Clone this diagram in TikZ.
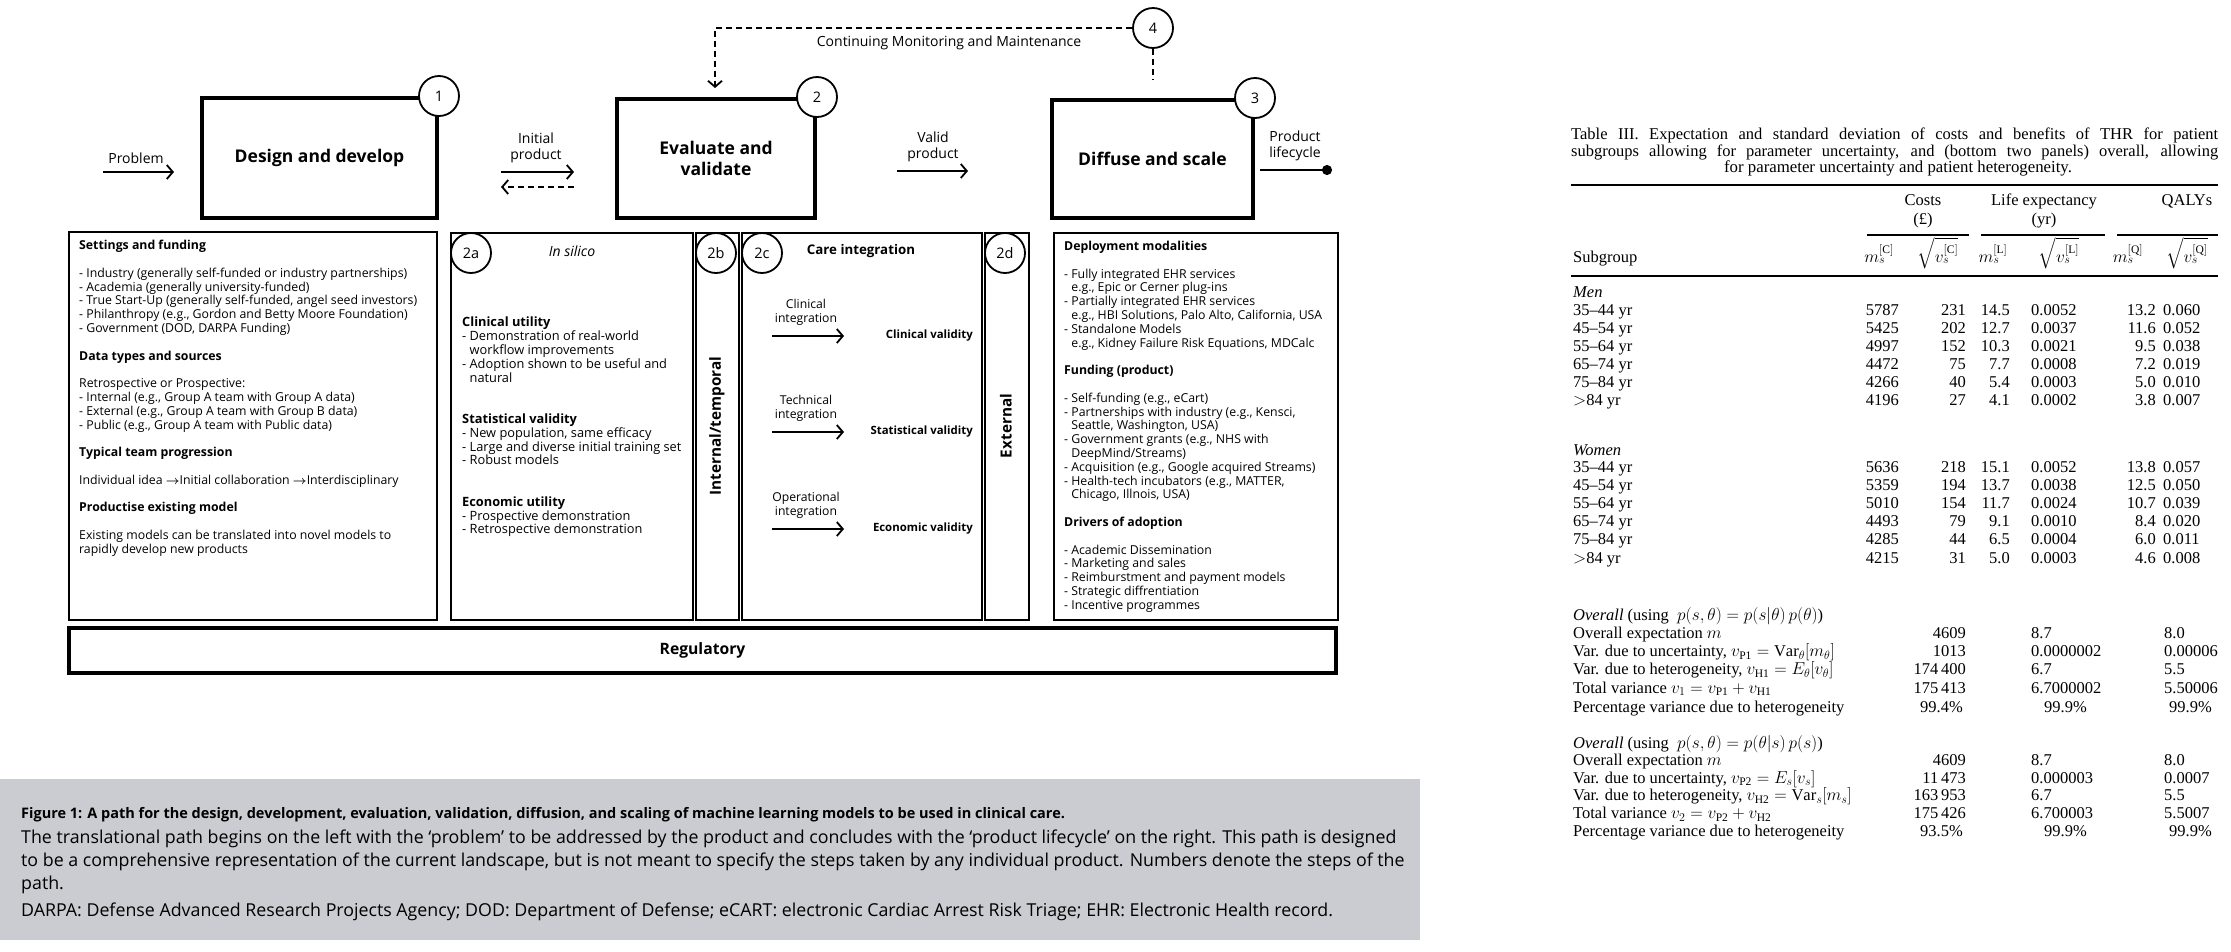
\documentclass[tikz,border=0pt]{standalone}
\usepackage{fontspec}
\setmainfont{Liberation Serif}
\newfontfamily\osans{Open Sans}
\usepackage{amsmath}
\usetikzlibrary{arrows.meta}
\definecolor{capgray}{RGB}{203,204,209}

\tikzset{
  stagebox/.style={draw,line width=4pt,inner sep=0pt,align=center,font=\osans\bfseries\fontsize{17.5}{21}\selectfont},
  stepnum/.style={circle,draw,fill=white,line width=1.8pt,minimum size=40pt,inner sep=0pt,font=\osans\fontsize{14.5}{14}\selectfont},
  panelbox/.style={draw,line width=2.5pt,anchor=north west,inner sep=0pt,outer sep=0pt},
  flowlabel/.style={inner sep=0.75pt,align=center,font=\osans\fontsize{14}{16}\selectfont},
  bodytext/.style={inner sep=0pt,align=left,anchor=north west,font=\osans\fontsize{12.3}{13.8}\selectfont},
  flowarrow/.style={line width=1.8pt,-{Straight Barb[length=6pt,width=14pt]}},
  dashline/.style={line width=1.8pt,dash pattern={on 6pt off 4pt}},
  tabtext/.style={inner sep=0pt,font=\fontsize{16.5}{18}\selectfont},
  captext/.style={anchor=west,inner sep=0pt,font=\osans\fontsize{17.8}{17}\selectfont},
}

\begin{document}
\begin{tikzpicture}[x=1pt,y=1pt,yscale=-1,xscale=1]
\path[use as bounding box] (0,0) rectangle (2231,951);

%Shape: stages [id:stages]
\draw (319.5,158) node (s1) [stagebox,minimum width=235pt,minimum height=120pt] {Design and develop};
\draw (716,158.5) node (s2) [stagebox,minimum width=198pt,minimum height=119pt] {Evaluate and\\validate};
\draw (1152.5,159) node (s3) [stagebox,minimum width=201pt,minimum height=118pt] {Diffuse and scale};
\draw (s1.north east) node (n1) [stepnum] {1};
\draw (s2.north east) node (n2) [stepnum] {2};
\draw (s3.north east) node (n3) [stepnum] {3};
\draw (1153,28) node (n4) [stepnum] {4};

%Straight Lines [id:flow]
\coordinate (pa) at (103,172); \coordinate (pb) at (174,172);
\coordinate (ia) at (501,172); \coordinate (ib) at (574,172);
\coordinate (ra) at (574,187); \coordinate (rb) at (501,187);
\coordinate (va) at (897,171); \coordinate (vb) at (968,171);
\coordinate (la) at (1260,170); \coordinate (lb) at (1332,170);
\coordinate (fb) at (715,88); \coordinate (mb) at (1153,80);
\draw [flowarrow] (pa) -- (pb) ;
\draw [flowarrow] (ia) -- (ib) ;
\draw [dashline,-{Straight Barb[length=6pt,width=14pt]}] (ra) -- (rb) ;
\draw [flowarrow] (va) -- (vb) ;
\draw [line width=1.8pt,-{Circle[length=10pt]}] (la) -- (lb) ;
\draw [dashline,-{Straight Barb[length=6pt,width=14pt]}] (n4.west) -| (fb) ;
\draw [dashline] (n4.south) -- (mb) ;

% Text Node
\draw (136,158) node (lprob) [flowlabel] {Problem};
% Text Node
\draw (536,148) node (linit) [flowlabel] {Initial\\product};
% Text Node
\draw (933,147) node (lvalid) [flowlabel] {Valid\\product};
% Text Node
\draw (1295,146) node (llife) [flowlabel] {Product\\lifecycle};
% Text Node
\draw (949,43) node (lmon) [flowlabel] {Continuing Monitoring and Maintenance};

%Shape: panels [id:panels]
\draw (69,232) node (d1) [panelbox,minimum width=368pt,minimum height=388pt] {};
\draw (451,233) node (d2a) [panelbox,minimum width=242pt,minimum height=387pt] {};
\draw (696,233) node (d2b) [panelbox,minimum width=43pt,minimum height=387pt] {};
\draw (742,233) node (d2c) [panelbox,minimum width=240pt,minimum height=387pt] {};
\draw (985,233) node (d2d) [panelbox,minimum width=44pt,minimum height=387pt] {};
\draw (1054,233) node (d3) [panelbox,minimum width=284pt,minimum height=387pt] {};
\draw (69,628) node (reg) [panelbox,line width=4pt,minimum width=1267pt,minimum height=45pt] {};
\draw (reg.center) node (lreg) [font=\osans\bfseries\fontsize{15.7}{16}\selectfont] {Regulatory};
\draw (471,253) node (n2a) [stepnum] {2a};
\draw (716,253) node (n2b) [stepnum] {2b};
\draw (762,253) node (n2c) [stepnum] {2c};
\draw (1005,253) node (n2d) [stepnum] {2d};

% Text Node
\draw (79,240) node (t1) [bodytext] {\textbf{Settings and funding}\\[13.8pt]
- Industry (generally self-funded or industry partnerships)\\
- Academia (generally university-funded)\\
- True Start-Up (generally self-funded, angel seed investors)\\
- Philanthropy (e.g., Gordon and Betty Moore Foundation)\\
- Government (DOD, DARPA Funding)\\[13.8pt]
\textbf{Data types and sources}\\[13.8pt]
Retrospective or Prospective:\\
- Internal (e.g., Group A team with Group A data)\\
- External (e.g., Group A team with Group B data)\\
- Public (e.g., Group A team with Public data)\\[13.8pt]
\textbf{Typical team progression}\\[13.8pt]
Individual idea $\boldsymbol{\rightarrow}$Initial collaboration $\boldsymbol{\rightarrow}$Interdisciplinary\\[13.8pt]
\textbf{Productise existing model}\\[13.8pt]
Existing models can be translated into novel models to\\
rapidly develop new products};
% Text Node
\draw (572,251) node (lsil) [font=\osans\itshape\fontsize{14}{15}\selectfont] {In silico};
% Text Node
\draw (462,317) node (t2a) [bodytext,font=\osans\fontsize{12.8}{13.8}\selectfont] {\textbf{Clinical utility}\\
- Demonstration of real-world\\
\phantom{- }workflow improvements\\
- Adoption shown to be useful and\\
\phantom{- }natural\\[27.6pt]
\textbf{Statistical validity}\\
- New population, same efficacy\\
- Large and diverse initial training set\\
- Robust models\\[27.6pt]
\textbf{Economic utility}\\
- Prospective demonstration\\
- Retrospective demonstration};
% Text Node
\draw (717,426) node (l2b) [rotate=90,font=\osans\bfseries\fontsize{15.3}{15}\selectfont] {Internal/temporal};
% Text Node
\draw (1006,426) node (l2d) [rotate=90,font=\osans\bfseries\fontsize{15.3}{15}\selectfont] {External};
% Text Node
\draw (861,251) node (lcare) [font=\osans\bfseries\fontsize{13.3}{15}\selectfont] {Care integration};
\foreach \kind/\valid/\y [count=\i] in {Clinical/Clinical validity/336,Technical/Statistical validity/432,Operational/Economic validity/529}{
  \draw (806,\y-24) node (ci\i) [align=center,inner sep=0pt,font=\osans\fontsize{12.2}{14}\selectfont] {\kind\\integration};
  \draw (973,\y) node (cv\i) [anchor=east,inner sep=0pt,font=\osans\bfseries\fontsize{11.4}{13}\selectfont] {\valid};
  \coordinate (ca\i) at (772,\y); \coordinate (cb\i) at (844,\y);
  \draw [flowarrow] (ca\i) -- (cb\i) ;
}
% Text Node
\draw (1064,241) node (t3) [bodytext] {\textbf{Deployment modalities}\\[13.8pt]
- Fully integrated EHR services\\
\phantom{- }e.g., Epic or Cerner plug-ins\\
- Partially integrated EHR services\\
\phantom{- }e.g., HBI Solutions, Palo Alto, California, USA\\
- Standalone Models\\
\phantom{- }e.g., Kidney Failure Risk Equations, MDCalc\\[13.8pt]
\textbf{Funding (product)}\\[13.8pt]
- Self-funding (e.g., eCart)\\
- Partnerships with industry (e.g., Kensci,\\
\phantom{- }Seattle, Washington, USA)\\
- Government grants (e.g., NHS with\\
\phantom{- }DeepMind/Streams)\\
- Acquisition (e.g., Google acquired Streams)\\
- Health-tech incubators (e.g., MATTER,\\
\phantom{- }Chicago, Illnois, USA)\\[13.8pt]
\textbf{Drivers of adoption}\\[13.8pt]
- Academic Dissemination\\
- Marketing and sales\\
- Reimburstment and payment models\\
- Strategic diffrentiation\\
- Incentive programmes};

%Shape: caption [id:caption]
\fill [capgray] (0,779) rectangle (1420,940) ;
% Text Node
\draw (21,815) node (cap0) [captext,font=\osans\bfseries\fontsize{14.5}{16}\selectfont] {Figure 1: A path for the design, development, evaluation, validation, diffusion, and scaling of machine learning models to be used in clinical care.};
\draw (21,839) node (cap1) [captext] {The translational path begins on the left with the ‘problem’ to be addressed by the product and concludes with the ‘product lifecycle’ on the right. This path is designed};
\draw (21,862) node (cap2) [captext] {to be a comprehensive representation of the current landscape, but is not meant to specify the steps taken by any individual product. Numbers denote the steps of the};
\draw (21,885) node (cap3) [captext] {path.};
\draw (21,912) node (cap4) [captext] {DARPA: Defense Advanced Research Projects Agency; DOD: Department of Defense; eCART: electronic Cardiac Arrest Risk Triage; EHR: Electronic Health record.};

% Table title
\draw (1571,139) node (tt1) [tabtext,anchor=base west] {\makebox[647pt][s]{Table III. Expectation and standard deviation of costs and benefits of THR for patient}};
\draw (1571,156) node (tt2) [tabtext,anchor=base west] {\makebox[647pt][s]{subgroups allowing for parameter uncertainty, and (bottom two panels) overall, allowing}};
\draw (1898,172) node (tt3) [tabtext,anchor=base,font=\fontsize{16.8}{18}\selectfont] {for parameter uncertainty and patient heterogeneity.};
%Straight Lines [id:rules]
\draw [line width=1.5pt] (1571,185) -- (2218,185) ;
\draw [line width=1.2pt] (1867,235) -- (1969,235) ;
\draw [line width=1.2pt] (1981,235) -- (2105,235) ;
\draw [line width=1.2pt] (2117,235) -- (2218,235) ;
\draw [line width=1.5pt] (1571,276) -- (2218,276) ;
% Table header
\draw (1923,224) node (hc) [tabtext,anchor=base,align=center,font=\fontsize{16.5}{19}\selectfont] {Costs\\(£)};
\draw (2044,224) node (hl) [tabtext,anchor=base,align=center,font=\fontsize{16.5}{19}\selectfont] {Life expectancy\\(yr)};
\draw (2187,205) node (hq) [tabtext,anchor=base] {QALYs};
\draw (1573,262) node (hs) [tabtext,anchor=base west] {Subgroup};
\draw (1879,262) node (hcm) [tabtext,anchor=base] {$m_s^{[\mathrm{C}]}$};
\draw (1938,262) node (hcs) [tabtext,anchor=base] {$\sqrt{v_s^{[\mathrm{C}]}}$};
\draw (1993,262) node (hlm) [tabtext,anchor=base] {$m_s^{[\mathrm{L}]}$};
\draw (2059,262) node (hls) [tabtext,anchor=base] {$\sqrt{v_s^{[\mathrm{L}]}}$};
\draw (2128,262) node (hqm) [tabtext,anchor=base] {$m_s^{[\mathrm{Q}]}$};
\draw (2187,262) node (hqs) [tabtext,anchor=base] {$\sqrt{v_s^{[\mathrm{Q}]}}$};

% Table rows
\draw (1573,297) node (gmen) [tabtext,anchor=base west] {\textit{Men}};
\draw (1573,455) node (gwom) [tabtext,anchor=base west] {\textit{Women}};
\foreach \grp/\ystart/\dy/\rows in {m/315/18/{35--44 yr/5787/231/14.5/0.0052/13.2/0.060,45--54 yr/5425/202/12.7/0.0037/11.6/0.052,55--64 yr/4997/152/10.3/0.0021/9.5/0.038,65--74 yr/4472/75/7.7/0.0008/7.2/0.019,75--84 yr/4266/40/5.4/0.0003/5.0/0.010,$>$84 yr/4196/27/4.1/0.0002/3.8/0.007},
  w/472/18.2/{35--44 yr/5636/218/15.1/0.0052/13.8/0.057,45--54 yr/5359/194/13.7/0.0038/12.5/0.050,55--64 yr/5010/154/11.7/0.0024/10.7/0.039,65--74 yr/4493/79/9.1/0.0010/8.4/0.020,75--84 yr/4285/44/6.5/0.0004/6.0/0.011,$>$84 yr/4215/31/5.0/0.0003/4.6/0.008}}{
  \foreach \lab/\cm/\cs/\lm/\ls/\qm/\qs [count=\i from 0] in \rows {
    \pgfmathsetmacro\yy{\ystart+\dy*\i}
    \draw (1573,\yy) node (\grp\i-a) [tabtext,anchor=base west] {\lab};
    \draw (1899,\yy) node (\grp\i-b) [tabtext,anchor=base east] {\cm};
    \draw (1966,\yy) node (\grp\i-c) [tabtext,anchor=base east] {\cs};
    \draw (2010,\yy) node (\grp\i-d) [tabtext,anchor=base east] {\lm};
    \draw (2031,\yy) node (\grp\i-e) [tabtext,anchor=base west] {\ls};
    \draw (2156,\yy) node (\grp\i-f) [tabtext,anchor=base east] {\qm};
    \draw (2163,\yy) node (\grp\i-g) [tabtext,anchor=base west] {\qs};
  }
}

% Overall panels
\draw (1573,620) node (o1h) [tabtext,anchor=base west] {\textit{Overall} (using \ $p(s,\theta)=p(s|\theta)\,p(\theta)$)};
\foreach \lab/\c/\l/\q [count=\i from 1] in {{Overall expectation $m$}/4609/8.7/8.0,
  {Var. due to uncertainty, $v_{\mathrm{P1}}=\mathrm{Var}_\theta[m_\theta]$}/1013/0.0000002/0.00006,
  {Var. due to heterogeneity, $v_{\mathrm{H1}}=E_\theta[v_\theta]$}/174\,400/6.7/5.5,
  {Total variance $v_1=v_{\mathrm{P1}}+v_{\mathrm{H1}}$}/175\,413/6.7000002/5.50006}{
  \pgfmathsetmacro\yy{620+18.3*\i}
  \draw (1573,\yy) node (o1\i-a) [tabtext,anchor=base west] {\lab};
  \draw (1966,\yy) node (o1\i-b) [tabtext,anchor=base east] {\c};
  \draw (2031,\yy) node (o1\i-c) [tabtext,anchor=base west] {\l};
  \draw (2164,\yy) node (o1\i-d) [tabtext,anchor=base west] {\q};
}
\draw (1573,712) node (o15a) [tabtext,anchor=base west] {Percentage variance due to heterogeneity};
\draw (1963,712) node (o15b) [tabtext,anchor=base east] {99.4\%};
\draw (2044,712) node (o15c) [tabtext,anchor=base west] {99.9\%};
\draw (2169,712) node (o15d) [tabtext,anchor=base west] {99.9\%};

\draw (1573,748) node (o2h) [tabtext,anchor=base west] {\textit{Overall} (using \ $p(s,\theta)=p(\theta|s)\,p(s)$)};
\foreach \lab/\c/\l/\q [count=\i from 1] in {{Overall expectation $m$}/4609/8.7/8.0,
  {Var. due to uncertainty, $v_{\mathrm{P2}}=E_s[v_s]$}/11\,473/0.000003/0.0007,
  {Var. due to heterogeneity, $v_{\mathrm{H2}}=\mathrm{Var}_s[m_s]$}/163\,953/6.7/5.5,
  {Total variance $v_2=v_{\mathrm{P2}}+v_{\mathrm{H2}}$}/175\,426/6.700003/5.5007}{
  \pgfmathsetmacro\yy{748+17.6*\i}
  \draw (1573,\yy) node (o2\i-a) [tabtext,anchor=base west] {\lab};
  \draw (1966,\yy) node (o2\i-b) [tabtext,anchor=base east] {\c};
  \draw (2031,\yy) node (o2\i-c) [tabtext,anchor=base west] {\l};
  \draw (2164,\yy) node (o2\i-d) [tabtext,anchor=base west] {\q};
}
\draw (1573,836) node (o25a) [tabtext,anchor=base west] {Percentage variance due to heterogeneity};
\draw (1963,836) node (o25b) [tabtext,anchor=base east] {93.5\%};
\draw (2044,836) node (o25c) [tabtext,anchor=base west] {99.9\%};
\draw (2169,836) node (o25d) [tabtext,anchor=base west] {99.9\%};

\end{tikzpicture}
\end{document}
